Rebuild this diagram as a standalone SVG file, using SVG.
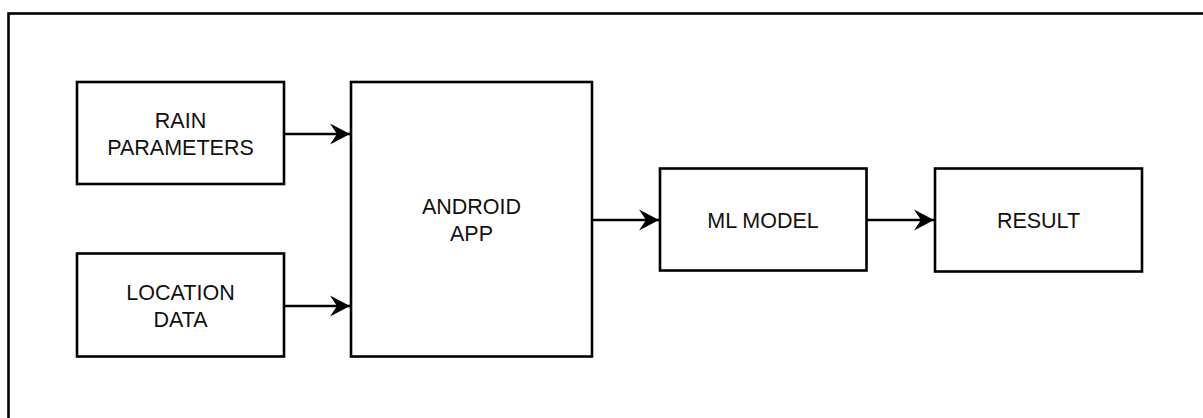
<svg xmlns="http://www.w3.org/2000/svg" width="1203" height="418" viewBox="0 0 1203 418">
  <style>
    .box { fill: #ffffff; stroke: #000000; stroke-width: 2.6; }
    .lbl { font-family: "Liberation Sans", Arial, sans-serif; font-size: 21.5px; fill: #111111; text-anchor: middle; }
    .edge { stroke: #000000; stroke-width: 2.6; fill: none; }
  </style>
  <defs>
    <marker id="arr" markerUnits="userSpaceOnUse" markerWidth="22" markerHeight="24" refX="20" refY="11" orient="auto" viewBox="0 0 22 22">
      <path d="M20,11 L0,0.5 L7,11 L0,21.5 Z" fill="#000000"/>
    </marker>
  </defs>
  <rect x="0" y="0" width="1203" height="418" fill="#ffffff"/>
  <g id="frame">
    <rect x="8.5" y="13.5" width="1210" height="420" fill="none" stroke="#000000" stroke-width="2.6"/>
  </g>
  <g id="rain">
    <rect class="box" x="77" y="82" width="207" height="102"/>
    <text class="lbl" x="180.5" y="127.5">RAIN</text>
    <text class="lbl" x="180.5" y="155">PARAMETERS</text>
  </g>
  <g id="location">
    <rect class="box" x="77" y="253.5" width="207" height="103"/>
    <text class="lbl" x="180.5" y="299.5">LOCATION</text>
    <text class="lbl" x="180.5" y="326.5">DATA</text>
  </g>
  <g id="android">
    <rect class="box" x="351" y="82" width="241" height="274.5"/>
    <text class="lbl" x="471.5" y="214">ANDROID</text>
    <text class="lbl" x="471.5" y="241">APP</text>
  </g>
  <g id="mlmodel">
    <rect class="box" x="660" y="168.5" width="206.5" height="102"/>
    <text class="lbl" x="763" y="228">ML MODEL</text>
  </g>
  <g id="result">
    <rect class="box" x="935" y="168.5" width="207" height="103"/>
    <text class="lbl" x="1038.5" y="228">RESULT</text>
  </g>
  <g id="connectors">
    <line class="edge" x1="284" y1="134" x2="350" y2="134" marker-end="url(#arr)"/>
    <line class="edge" x1="284" y1="306" x2="350" y2="306" marker-end="url(#arr)"/>
    <line class="edge" x1="592" y1="220" x2="659" y2="220" marker-end="url(#arr)"/>
    <line class="edge" x1="866.5" y1="220" x2="934" y2="220" marker-end="url(#arr)"/>
  </g>
</svg>
